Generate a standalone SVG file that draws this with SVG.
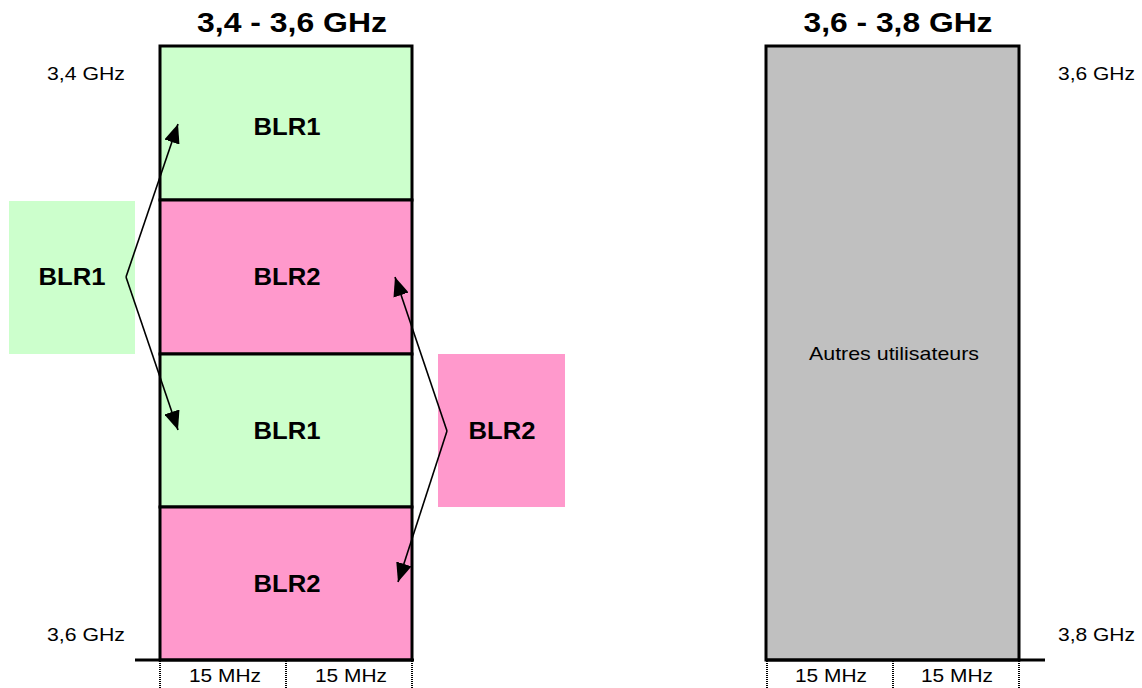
<svg xmlns="http://www.w3.org/2000/svg" width="1142" height="688" viewBox="0 0 1142 688">
<style>
.t{font-family:"Liberation Sans",Arial,sans-serif;fill:#000}
.title{font-size:28px;font-weight:bold;text-anchor:middle}
.lbl{font-size:24px;font-weight:bold;text-anchor:middle}
.sm{font-size:19px}
.mid{text-anchor:middle}
.band{stroke:#000;stroke-width:3}
.axis{stroke:#000;stroke-width:3}
.tick{stroke:#000;stroke-width:2;stroke-dasharray:1 1}
.conn{stroke:#000;stroke-width:1.6;fill:none}
</style>
<defs>
<marker id="ah" markerWidth="20" markerHeight="16" refX="19" refY="8" orient="auto" markerUnits="userSpaceOnUse">
<path d="M0,0 L19,8 L0,16 Z" fill="#000"/>
</marker>
</defs>
<rect width="1142" height="688" fill="#fff"/>

<g id="titles">
<text class="t title" x="292" y="32" textLength="190" lengthAdjust="spacingAndGlyphs">3,4 - 3,6 GHz</text>
<text class="t title" x="898" y="32" textLength="189" lengthAdjust="spacingAndGlyphs">3,6 - 3,8 GHz</text>
</g>

<g id="freq-labels">
<text class="t sm" x="47" y="80" textLength="78" lengthAdjust="spacingAndGlyphs">3,4 GHz</text>
<text class="t sm" x="47" y="641" textLength="78" lengthAdjust="spacingAndGlyphs">3,6 GHz</text>
<text class="t sm" x="1058" y="80" textLength="77" lengthAdjust="spacingAndGlyphs">3,6 GHz</text>
<text class="t sm" x="1058" y="641" textLength="77" lengthAdjust="spacingAndGlyphs">3,8 GHz</text>
</g>

<g id="band-left-blr1-top">
<rect x="160" y="46" width="252" height="154" fill="#CCFFCC" class="band"/>
<text class="t lbl" x="287" y="135" textLength="67" lengthAdjust="spacingAndGlyphs">BLR1</text>
</g>
<g id="band-left-blr2-a">
<rect x="160" y="200" width="252" height="154" fill="#FF99CC" class="band"/>
<text class="t lbl" x="287" y="285" textLength="67" lengthAdjust="spacingAndGlyphs">BLR2</text>
</g>
<g id="band-left-blr1-b">
<rect x="160" y="354" width="252" height="153" fill="#CCFFCC" class="band"/>
<text class="t lbl" x="287" y="439" textLength="67" lengthAdjust="spacingAndGlyphs">BLR1</text>
</g>
<g id="band-left-blr2-b">
<rect x="160" y="507" width="252" height="153" fill="#FF99CC" class="band"/>
<text class="t lbl" x="287" y="592" textLength="67" lengthAdjust="spacingAndGlyphs">BLR2</text>
</g>

<g id="band-right">
<rect x="766" y="46" width="253" height="614" fill="#C0C0C0" class="band"/>
<text class="t sm mid" x="894" y="360" textLength="170" lengthAdjust="spacingAndGlyphs">Autres utilisateurs</text>
</g>

<g id="blr1-side">
<rect x="9" y="201" width="126" height="153" fill="#CCFFCC"/>
<text class="t lbl" x="72" y="285" textLength="67" lengthAdjust="spacingAndGlyphs">BLR1</text>
</g>
<g id="blr2-side">
<rect x="438" y="354" width="127" height="153" fill="#FF99CC"/>
<text class="t lbl" x="502" y="439" textLength="67" lengthAdjust="spacingAndGlyphs">BLR2</text>
</g>

<g id="axes">
<line x1="135" y1="660" x2="414" y2="660" class="axis"/>
<line x1="766" y1="660" x2="1045" y2="660" class="axis"/>
<line x1="160" y1="661" x2="160" y2="688" class="tick"/>
<line x1="286" y1="661" x2="286" y2="688" class="tick"/>
<line x1="412" y1="661" x2="412" y2="688" class="tick"/>
<line x1="767" y1="661" x2="767" y2="688" class="tick"/>
<line x1="893" y1="661" x2="893" y2="688" class="tick"/>
<line x1="1019" y1="661" x2="1019" y2="688" class="tick"/>
<text class="t sm" x="189" y="682" textLength="72" lengthAdjust="spacingAndGlyphs">15 MHz</text>
<text class="t sm" x="315" y="682" textLength="72" lengthAdjust="spacingAndGlyphs">15 MHz</text>
<text class="t sm" x="795" y="682" textLength="72" lengthAdjust="spacingAndGlyphs">15 MHz</text>
<text class="t sm" x="921" y="682" textLength="72" lengthAdjust="spacingAndGlyphs">15 MHz</text>
</g>

<g id="connectors">
<line x1="126" y1="277" x2="178" y2="124" class="conn" marker-end="url(#ah)"/>
<line x1="126" y1="277" x2="178" y2="430" class="conn" marker-end="url(#ah)"/>
<line x1="447" y1="431" x2="395" y2="277" class="conn" marker-end="url(#ah)"/>
<line x1="447" y1="431" x2="398" y2="582" class="conn" marker-end="url(#ah)"/>
</g>
</svg>
